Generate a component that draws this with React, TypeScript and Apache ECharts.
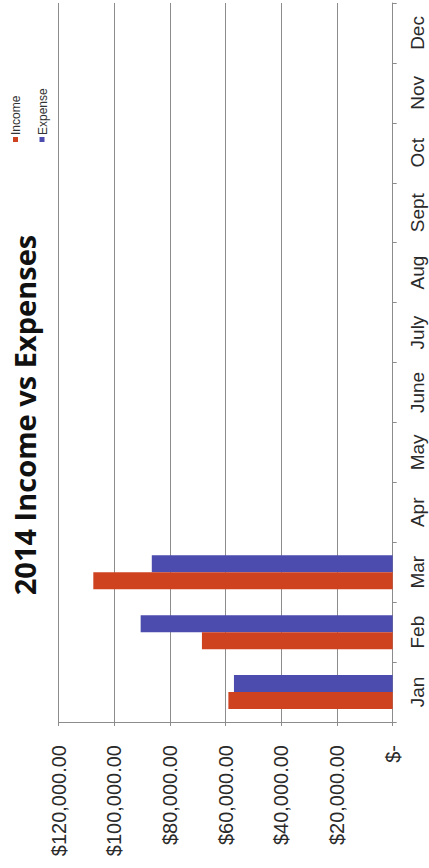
import React, { useEffect, useRef } from "react";
import * as echarts from "echarts";

const months = ["Jan", "Feb", "Mar", "Apr", "May", "June", "July", "Aug", "Sept", "Oct", "Nov", "Dec"];
const incomeValues = [59000, 68500, 107500];
const expenseValues = [57000, 90500, 86500];
const valueTickLabels = ["$-", "$20,000.00", "$40,000.00", "$60,000.00", "$80,000.00", "$100,000.00", "$120,000.00"];
const titleText = "2014 Income vs Expenses";
const seriesNames = ["Income", "Expense"];

const RED = "#cf4220";
const BLUE = "#4b4cae";
const GRID_GRAY = "#8c8c8c";

export default function App() {
  const ref = useRef<HTMLDivElement>(null);
  useEffect(() => {
    if (!ref.current) return;
    const chart = echarts.init(ref.current, null, { renderer: "svg" });
    const option: any = {
      animation: false,
      backgroundColor: "#ffffff",
      grid: { left: 58.5, right: 36.3, top: 3, bottom: 146, containLabel: false },
      xAxis: {
        type: "value",
        inverse: true,
        position: "bottom",
        min: 0,
        max: 120000,
        interval: 20000,
        axisLine: { show: true, lineStyle: { color: GRID_GRAY, width: 1 } },
        axisTick: { show: true, length: 4, lineStyle: { color: GRID_GRAY } },
        splitLine: { show: true, lineStyle: { color: GRID_GRAY, width: 1 } },
        axisLabel: {
          rotate: 90,
          margin: 23,
          fontSize: 20,
          fontFamily: "Liberation Sans, Arial, sans-serif",
          color: "#2a2a2a",
          formatter: (v: number) => valueTickLabels[Math.round(v / 20000)] ?? "",
        },
      },
      yAxis: {
        type: "category",
        position: "right",
        data: months,
        axisLine: { show: true, lineStyle: { color: GRID_GRAY, width: 1 } },
        axisTick: { show: true, length: 4, inside: false, alignWithLabel: false, lineStyle: { color: GRID_GRAY } },
        splitLine: { show: false },
        axisLabel: {
          rotate: 90,
          margin: 15,
          fontSize: 19,
          fontFamily: "Liberation Sans, Arial, sans-serif",
          color: "#2a2a2a",
        },
      },
      series: [
        {
          name: seriesNames[1],
          type: "bar",
          data: expenseValues,
          barWidth: 17,
          barGap: "0%",
          itemStyle: { color: BLUE },
        },
        {
          name: seriesNames[0],
          type: "bar",
          data: incomeValues,
          barWidth: 17,
          barGap: "0%",
          itemStyle: { color: RED },
        },
      ],
      graphic: [
        {
          type: "text",
          x: 39,
          y: 415,
          rotation: Math.PI / 2,
          style: {
            text: titleText,
            fontSize: 29,
            fontWeight: "bold",
            fontFamily: "Open Sans, sans-serif",
            fill: "#111111",
            align: "center",
            verticalAlign: "bottom",
            textAlign: "center",
            textVerticalAlign: "bottom",
          },
        },
        { type: "rect", shape: { x: 13, y: 137, width: 5, height: 5 }, style: { fill: RED } },
        {
          type: "text",
          x: 16,
          y: 135,
          rotation: Math.PI / 2,
          style: {
            text: seriesNames[0],
            fontSize: 12,
            fontFamily: "Liberation Sans, Arial, sans-serif",
            fill: "#333333",
            align: "left",
            verticalAlign: "middle",
            textAlign: "left",
            textVerticalAlign: "middle",
          },
        },
        { type: "rect", shape: { x: 39.5, y: 137, width: 5, height: 5 }, style: { fill: BLUE } },
        {
          type: "text",
          x: 42.5,
          y: 135,
          rotation: Math.PI / 2,
          style: {
            text: seriesNames[1],
            fontSize: 12,
            fontFamily: "Liberation Sans, Arial, sans-serif",
            fill: "#333333",
            align: "left",
            verticalAlign: "middle",
            textAlign: "left",
            textVerticalAlign: "middle",
          },
        },
      ],
    };
    chart.setOption(option);
    return () => chart.dispose();
  }, []);
  return (
    <div
      ref={ref}
      style={{ position: "fixed", left: 0, top: 0, width: 429, height: 868, background: "#fff" }}
    />
  );
}
